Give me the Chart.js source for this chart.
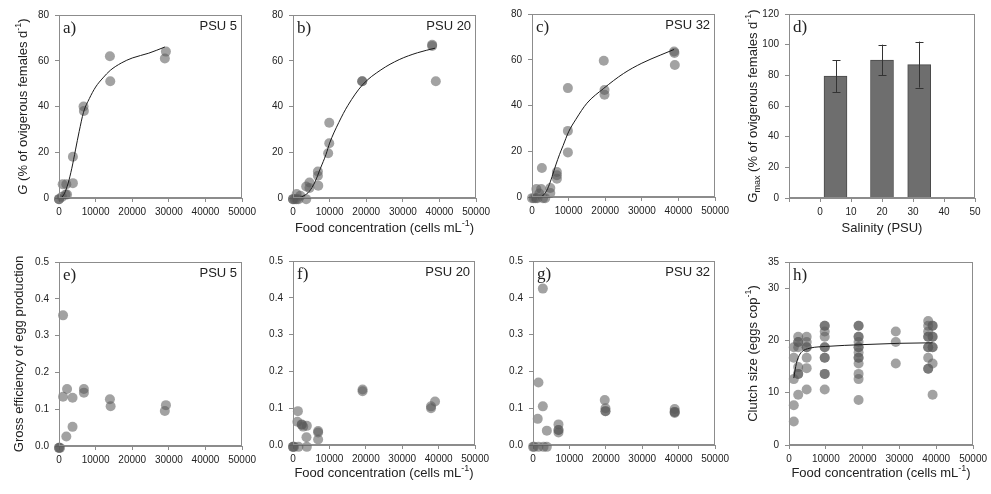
<!DOCTYPE html>
<html>
<head>
<meta charset="utf-8">
<script src="https://cdn.jsdelivr.net/npm/chart.js@4.4.1/dist/chart.umd.min.js"></script>
<style>
  body { margin: 0; background: #fff; }
  #page { position: relative; width: 991px; height: 494px; overflow: hidden; background: #fff; }
  .panel { position: absolute; }
</style>
</head>
<body>
<div id="page"></div>
<script>
// ---- data ----
// a) PSU 5, G vs food
const aX = [0, 0, 800, 1000, 2000, 1800, 2200, 3800, 3800, 6700, 6800, 13900, 14000, 28900, 29200];
const aY = [-0.5, -0.5, 0.5, 6, 6, 1.5, 1.5, 18, 6.5, 40, 38, 62, 51, 61, 64];
const aCurveX = [600, 1500, 2500, 3500, 4500, 5500, 6700, 8300, 10000, 12000, 14000, 17000, 20000, 24500, 28900];
const aCurveY = [0, 2, 6.5, 13, 21, 29, 37.5, 43.5, 48.5, 52.5, 55.8, 59, 61.2, 63.3, 66];

// b) PSU 20
const bX = [0, 0, 500, 1000, 1500, 1000, 2000, 3600, 3600, 4500, 4500, 6800, 6800, 6900, 9900, 9900, 9600, 18900, 18900, 38000, 38000, 39000];
const bY = [-0.5, -0.5, -0.5, -0.5, -0.5, 1.7, 1, 5, -0.5, 6.8, 4.4, 11.6, 9.7, 5.4, 32.9, 23.9, 19.6, 51, 51, 67, 66.5, 51];
const bCurveX = [1500, 3000, 4500, 6000, 7500, 9000, 10000, 12500, 15000, 19000, 24000, 29000, 34000, 38800];
const bCurveY = [0, 1, 3, 7, 13, 19, 24, 33, 40.5, 49.5, 56, 60.5, 63.5, 65.5];

// c) PSU 32
const cX = [0, 500, 1000, 1500, 1200, 2500, 2700, 2000, 3600, 3000, 5000, 5000, 6800, 6800, 6800, 9800, 9800, 9800, 19600, 19800, 19800, 38800, 38900, 39000];
const cY = [-0.5, -0.5, -0.5, -0.5, 3.5, 3.5, 12.7, 1.5, -0.5, -0.5, 3.9, 1.7, 10.9, 9.5, 8, 47.6, 28.9, 19.5, 59.6, 46.8, 44.7, 63.6, 63, 57.7];
const cCurveX = [2500, 3500, 4500, 5500, 6500, 7500, 8500, 10000, 12000, 15000, 19600, 25000, 30000, 35000, 38800];
const cCurveY = [0, 1.5, 4.5, 9, 14, 18.5, 22.5, 28.5, 34, 41, 47.5, 54, 58.5, 62, 64.5];

// d) Gmax vs salinity
const dSalinity = [5, 20, 32];
const dGmax = [79.5, 90, 87];
const dErr = [10.5, 10, 15];

// e) gross efficiency, PSU 5
const eX = [0, 0, 300, 1100, 1100, 2200, 2000, 3700, 3700, 6800, 6800, 13900, 14100, 28900, 29200];
const eY = [-0.005, -0.005, -0.005, 0.355, 0.134, 0.155, 0.026, 0.131, 0.052, 0.155, 0.145, 0.127, 0.108, 0.095, 0.111];

// f) PSU 20
const fX = [0, 0, 300, 1500, 1350, 1200, 2400, 2400, 2800, 3800, 3700, 3800, 6900, 6900, 6900, 19100, 19100, 37900, 37900, 39000];
const fY = [-0.005, -0.005, -0.005, -0.005, 0.092, 0.063, 0.056, 0.055, 0.05, 0.052, 0.021, -0.005, 0.038, 0.034, 0.015, 0.151, 0.146, 0.1, 0.105, 0.118];

// g) PSU 32
const gX = [0, 300, 1500, 2900, 3800, 2700, 1500, 1300, 2700, 3800, 7000, 7000, 7000, 7000, 19700, 19900, 19900, 19900, 38900, 38900, 38900, 38900];
const gY = [-0.005, -0.005, -0.005, -0.005, -0.005, 0.425, 0.17, 0.071, 0.105, 0.039, 0.056, 0.041, 0.041, 0.034, 0.122, 0.1, 0.092, 0.092, 0.098, 0.09, 0.09, 0.087];

// h) clutch size
const hX = [
  1300, 1300, 1300, 1300, 1300,
  2500, 2500, 2500, 2500, 2500, 2500, 2500, 2500,
  4800, 4800, 4800, 4800, 4800, 4800, 4800,
  9700, 9700, 9700, 9700, 9700, 9700, 9700, 9700, 9700, 9700, 9700,
  18900, 18900, 18900, 18900, 18900, 18900, 18900, 18900, 18900, 18900, 18900, 18900, 18900, 18900,
  29000, 29000, 29000,
  37800, 37800, 37800, 37800, 37800, 37800, 37800, 37800, 37800, 37800,
  39000, 39000, 39000, 39000, 39000, 39000, 39000, 39000
];
const hY = [
  18.7, 16.7, 12.6, 7.6, 4.5,
  20.7, 19.7, 19.7, 18.7, 14.9, 13.6, 13.6, 9.6,
  20.7, 19.7, 18.7, 18.7, 16.7, 14.7, 10.6,
  22.8, 22.8, 21.7, 20.7, 18.7, 18.7, 16.7, 16.7, 13.6, 13.6, 10.6,
  22.8, 22.8, 20.7, 20.7, 19.7, 18.7, 18.7, 17.7, 16.7, 16.7, 15.6, 13.6, 12.6, 8.6,
  21.7, 19.7, 15.6,
  23.7, 22.8, 21.7, 20.7, 20.7, 18.7, 18.7, 16.7, 14.6, 14.6,
  22.8, 22.8, 20.7, 20.7, 18.7, 18.7, 15.6, 9.6
];
const hCurveX = [1300, 2000, 3000, 4000, 5000, 7000, 10000, 15000, 20000, 30000, 39000];
const hCurveY = [12.8, 15.6, 17.4, 18.1, 18.4, 18.7, 18.85, 19.05, 19.2, 19.45, 19.55];

// ---- styling ----
const SANS = '"Liberation Sans", Arial, sans-serif';
const SERIF = '"Liberation Serif", "Times New Roman", serif';
Chart.defaults.font.family = SANS;
Chart.defaults.font.size = 10;
Chart.defaults.color = '#222';
Chart.defaults.animation = false;

const DOT = 'rgba(90,90,90,0.56)';
const AXIS = '#8c8c8c';
const LEFT = 58, TOP = 12, RIGHT = 16, BOTTOM = 40;

const foodTitle = [{ t: 'Food concentration (cells mL' }, { t: '-1', sup: true }, { t: ')' }];
const gTitle = [{ t: 'G', i: true }, { t: ' (% of ovigerous females d' }, { t: '-1', sup: true }, { t: ')' }];
const gmaxTitle = [{ t: 'G' }, { t: 'max', sub: true }, { t: ' (% of ovigerous females d' }, { t: '-1', sup: true }, { t: ')' }];
const effTitle = [{ t: 'Gross efficiency of egg production' }];
const clutchTitle = [{ t: 'Clutch size (eggs cop' }, { t: '-1', sup: true }, { t: ')' }];

function pts(xs, ys) {
  return xs.map((x, i) => ({ x, y: ys[i] }));
}

function drawRich(ctx, parts, cx, cy, rotate, size) {
  ctx.save();
  ctx.translate(cx, cy);
  if (rotate) ctx.rotate(-Math.PI / 2);
  const fontFor = p => (p.i ? 'italic ' : '') + ((p.sub || p.sup) ? Math.round(size * 0.7) : size) + 'px ' + SANS;
  let total = 0;
  const widths = parts.map(p => { ctx.font = fontFor(p); const w = ctx.measureText(p.t).width; total += w; return w; });
  let x = -total / 2;
  ctx.textBaseline = 'middle';
  ctx.textAlign = 'left';
  ctx.fillStyle = '#222';
  parts.forEach((p, k) => {
    ctx.font = fontFor(p);
    const dy = p.sup ? -size * 0.38 : p.sub ? size * 0.32 : 0;
    ctx.fillText(p.t, x, dy);
    x += widths[k];
  });
  ctx.restore();
}

const panelText = {
  id: 'panelText',
  afterDraw(chart, args, o) {
    const { ctx, chartArea: ca } = chart;
    ctx.save();
    ctx.strokeStyle = AXIS;
    ctx.lineWidth = 1;
    ctx.strokeRect(Math.round(ca.left) + 0.5, Math.round(ca.top) + 0.5,
      Math.round(ca.right - ca.left) - 1, Math.round(ca.bottom - ca.top) - 1);
    ctx.fillStyle = '#222';
    ctx.textBaseline = 'alphabetic';
    ctx.font = '17px ' + SERIF;
    ctx.textAlign = 'left';
    ctx.fillText(o.letter, ca.left + 4, ca.top + 18);
    if (o.psu) {
      ctx.font = '13px ' + SANS;
      ctx.textAlign = 'right';
      ctx.fillText(o.psu, ca.right - 5, ca.top + 15);
    }
    ctx.restore();
    if (o.yTitle) drawRich(ctx, o.yTitle, ca.left - (o.yOff || 36), (ca.top + ca.bottom) / 2, true, 13);
    if (o.xTitle) drawRich(ctx, o.xTitle, (ca.left + ca.right) / 2, ca.bottom + (o.xOff || 28), false, 13);
  }
};

const errorBars = {
  id: 'errorBars',
  afterDatasetsDraw(chart, args, o) {
    if (!o.err) return;
    const { ctx, scales: { x, y } } = chart;
    ctx.save();
    ctx.strokeStyle = '#333';
    ctx.lineWidth = 1;
    o.xs.forEach((v, i) => {
      const px = Math.round(x.getPixelForValue(v)) + 0.5;
      const lo = y.getPixelForValue(o.ys[i] - o.err[i]);
      const hi = y.getPixelForValue(o.ys[i] + o.err[i]);
      ctx.beginPath();
      ctx.moveTo(px, lo); ctx.lineTo(px, hi);
      ctx.moveTo(px - 4, Math.round(lo) + 0.5); ctx.lineTo(px + 4, Math.round(lo) + 0.5);
      ctx.moveTo(px - 4, Math.round(hi) + 0.5); ctx.lineTo(px + 4, Math.round(hi) + 0.5);
      ctx.stroke();
    });
    ctx.restore();
  }
};

function axis(min, max, step, fmt, isX) {
  return {
    type: 'linear', min, max, offset: false,
    border: { display: true, color: AXIS },
    grid: { drawOnChartArea: false, drawTicks: true, tickLength: 4, color: AXIS, offset: false },
    ticks: { stepSize: step, padding: isX ? 4 : 6, maxRotation: 0, autoSkip: false, color: '#222', font: { size: 10 }, callback: fmt },
    afterFit: s => { if (isX) s.height = BOTTOM; else s.width = LEFT; }
  };
}

function makePanel(rect, datasets, xAx, yAx, text, extra) {
  const div = document.createElement('div');
  div.className = 'panel';
  div.style.left = (rect[0] - LEFT) + 'px';
  div.style.top = (rect[1] - TOP) + 'px';
  div.style.width = (rect[2] - rect[0] + LEFT + RIGHT) + 'px';
  div.style.height = (rect[3] - rect[1] + TOP + BOTTOM) + 'px';
  const cv = document.createElement('canvas');
  div.appendChild(cv);
  document.getElementById('page').appendChild(div);
  new Chart(cv, {
    type: 'scatter',
    data: { datasets },
    options: {
      responsive: true, maintainAspectRatio: false,
      layout: { padding: { left: 0, top: TOP, right: RIGHT, bottom: 0 } },
      plugins: { legend: { display: false }, tooltip: { enabled: false }, panelText: text, errorBars: extra || {} },
      scales: { x: xAx, y: yAx }
    },
    plugins: [panelText, errorBars]
  });
}

function dots(xs, ys) {
  return { type: 'scatter', data: pts(xs, ys), pointRadius: 5, pointBackgroundColor: DOT, pointBorderWidth: 0, borderWidth: 0, clip: false };
}
function curve(xs, ys) {
  return { type: 'line', data: pts(xs, ys), borderColor: '#1a1a1a', borderWidth: 1, pointRadius: 0, cubicInterpolationMode: 'monotone', fill: false };
}

const food = () => axis(0, 50000, 10000, v => String(v), true);
const gAxis = () => axis(0, 80, 20, v => String(v), false);
const effAxis = () => axis(0, 0.5, 0.1, v => v.toFixed(1), false);

makePanel([59, 15, 244, 198], [curve(aCurveX, aCurveY), dots(aX, aY)], food(), gAxis(),
  { letter: 'a)', psu: 'PSU 5', yTitle: gTitle, yOff: 36 });
makePanel([293, 15, 478, 198], [curve(bCurveX, bCurveY), dots(bX, bY)], food(), gAxis(),
  { letter: 'b)', psu: 'PSU 20', xTitle: foodTitle, xOff: 30 });
makePanel([532, 14, 717, 197], [curve(cCurveX, cCurveY), dots(cX, cY)], food(), gAxis(),
  { letter: 'c)', psu: 'PSU 32' });

makePanel([789, 14, 975, 198], [{
    type: 'bar', data: pts(dSalinity, dGmax), backgroundColor: '#6e6e6e', borderColor: '#4a4a4a',
    borderWidth: 1, barThickness: 23
  }],
  axis(-10, 50, 10, v => (v < 0 ? '' : String(v)), true), axis(0, 120, 20, v => String(v), false),
  { letter: 'd)', yTitle: gmaxTitle, yOff: 36, xTitle: [{ t: 'Salinity (PSU)' }], xOff: 30 },
  { xs: dSalinity, ys: dGmax, err: dErr });

makePanel([59, 262, 244, 446], [dots(eX, eY)], food(), effAxis(),
  { letter: 'e)', psu: 'PSU 5', yTitle: effTitle, yOff: 40 });
makePanel([293, 261, 477, 445], [dots(fX, fY)], food(), effAxis(),
  { letter: 'f)', psu: 'PSU 20', xTitle: foodTitle, xOff: 28 });
makePanel([533, 261, 717, 445], [dots(gX, gY)], food(), effAxis(),
  { letter: 'g)', psu: 'PSU 32' });
makePanel([789, 262, 975, 445], [curve(hCurveX, hCurveY), dots(hX, hY)], food(), axis(0, 35, 10, v => String(v), false),
  { letter: 'h)', yTitle: clutchTitle, yOff: 36, xTitle: foodTitle, xOff: 28 });
</script>
</body>
</html>
